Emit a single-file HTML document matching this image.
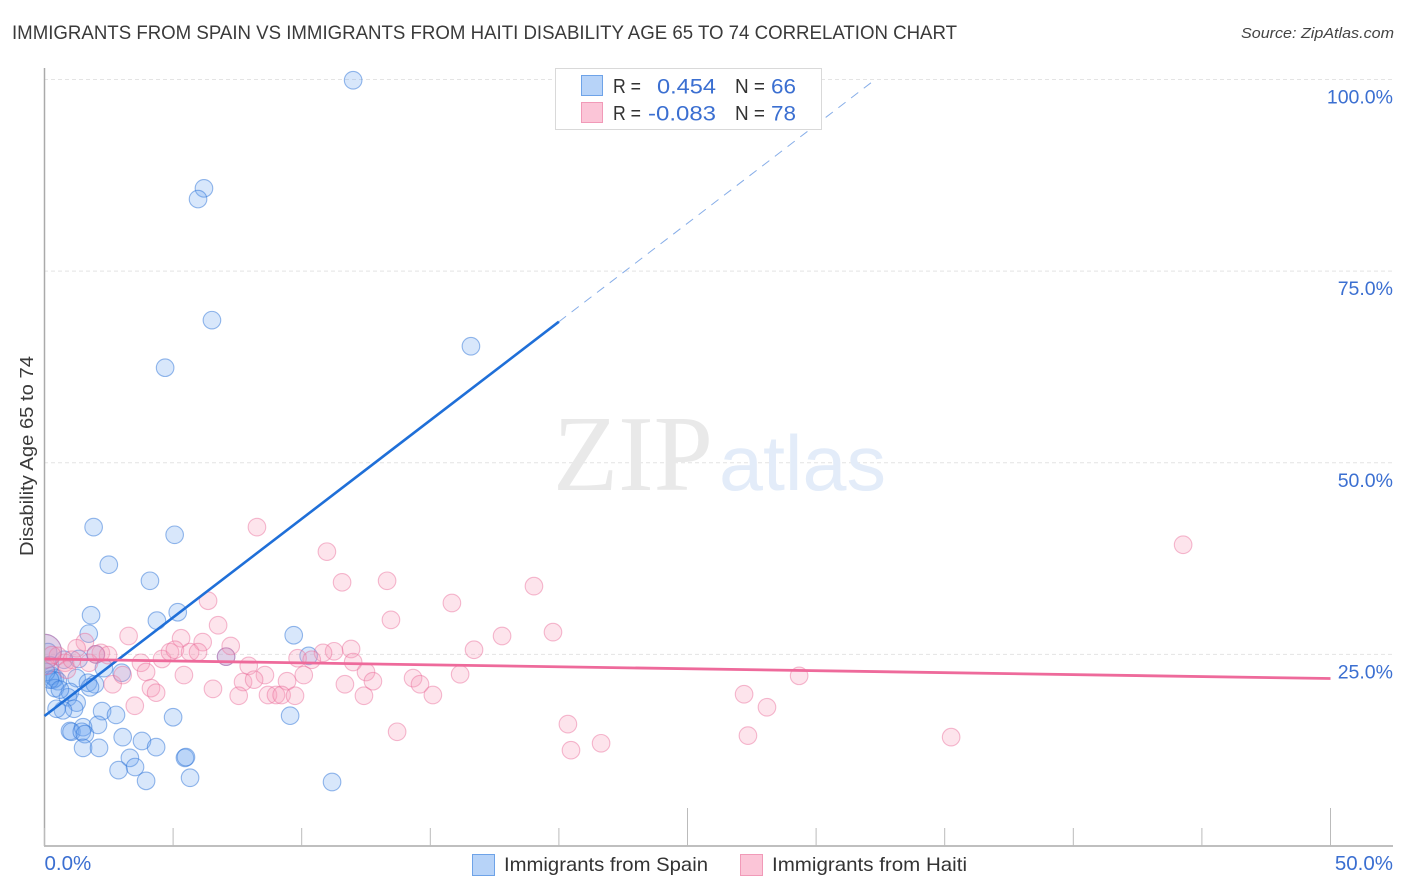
<!DOCTYPE html>
<html lang="en">
<head>
<meta charset="utf-8">
<title>Immigrants from Spain vs Immigrants from Haiti Disability Age 65 to 74 Correlation Chart</title>
<style>
html,body{margin:0;padding:0;background:#fff;}
body{width:1406px;height:892px;overflow:hidden;}
svg{display:block;font-family:"Liberation Sans",sans-serif;}
</style>
</head>
<body>
<svg id="chart" width="1406" height="892" viewBox="0 0 1406 892" xmlns="http://www.w3.org/2000/svg">
  <rect x="0" y="0" width="1406" height="892" fill="#ffffff"/>
  <text x="12" y="39" font-size="19" fill="#3a3a3a" textLength="945" lengthAdjust="spacingAndGlyphs">IMMIGRANTS FROM SPAIN VS IMMIGRANTS FROM HAITI DISABILITY AGE 65 TO 74 CORRELATION CHART</text>
  <text x="1394" y="38" font-size="15" font-style="italic" fill="#444444" text-anchor="end" textLength="153" lengthAdjust="spacingAndGlyphs">Source: ZipAtlas.com</text>
  <g id="grid"></g>
  <g>
    <text x="553" y="490" font-family="'Liberation Serif',serif" font-size="108" fill="#e9e9e9" textLength="160" lengthAdjust="spacingAndGlyphs">ZIP</text>
    <text x="719" y="490" font-size="78" fill="#e3ecf9" textLength="167" lengthAdjust="spacingAndGlyphs">atlas</text>
  </g>
  <g id="points"></g>
  <rect x="10" y="600" width="34.5" height="110" fill="#ffffff"/>
  <g id="axes"></g>
  <g id="trends"></g>
  <g id="labels"></g>
  <text transform="translate(33,456) rotate(-90)" font-size="18.5" fill="#3a3a3a" text-anchor="middle" textLength="200" lengthAdjust="spacingAndGlyphs">Disability Age 65 to 74</text>

  <g>
    <rect x="555.5" y="68.5" width="266" height="61" fill="#ffffff" stroke="#d9d9d9" stroke-width="1"/>
    <rect x="581.5" y="75.5" width="21" height="20" fill="#b7d3f8" stroke="#6ea3e8" stroke-width="1"/>
    <rect x="581.5" y="102.5" width="21" height="20" fill="#fbc5d7" stroke="#f19ab8" stroke-width="1"/>
    <g font-size="20" fill="#333333">
      <text x="613" y="93" textLength="28" lengthAdjust="spacingAndGlyphs">R =</text>
      <text x="735" y="93" textLength="30" lengthAdjust="spacingAndGlyphs">N =</text>
      <text x="613" y="120" textLength="28" lengthAdjust="spacingAndGlyphs">R =</text>
      <text x="735" y="120" textLength="30" lengthAdjust="spacingAndGlyphs">N =</text>
    </g>
    <g font-size="21" fill="#3b6fd1">
      <text x="657" y="93.5" textLength="59" lengthAdjust="spacingAndGlyphs">0.454</text>
      <text x="771" y="93.5" textLength="25" lengthAdjust="spacingAndGlyphs">66</text>
      <text x="648" y="120.5" textLength="68" lengthAdjust="spacingAndGlyphs">-0.083</text>
      <text x="771" y="120.5" textLength="25" lengthAdjust="spacingAndGlyphs">78</text>
    </g>
  </g>

  <g>
    <g>
      <rect x="472.5" y="854.5" width="22" height="21" fill="#b7d3f8" stroke="#6ea3e8" stroke-width="1"/>
      <text x="504" y="871" font-size="19.5" fill="#333333" textLength="204" lengthAdjust="spacingAndGlyphs">Immigrants from Spain</text>
    </g>
    <g>
      <rect x="740.5" y="854.5" width="22" height="21" fill="#fbc5d7" stroke="#f19ab8" stroke-width="1"/>
      <text x="772" y="871" font-size="19.5" fill="#333333" textLength="195" lengthAdjust="spacingAndGlyphs">Immigrants from Haiti</text>
    </g>
  </g>
</svg>
<script>
const xTickValues = [0,5,10,15,20,25,30,35,40,45,50];
const xMajorTicks = [25,50];
const xTickLabels = ["0.0%","50.0%"];
const xTickLabelValues = [0,50];
const yGridValues = [25,50,75,100];
const yTickLabels = ["25.0%","50.0%","75.0%","100.0%"];

const spainX = [12.0,6.2,5.97,6.51,4.69,16.58,1.91,5.06,2.5,4.1,1.81,5.18,4.37,1.72,9.69,7.06,10.27,5.0,9.55,2.24,2.78,2.08,0.99,1.05,1.5,1.45,1.57,1.5,2.12,3.04,3.79,4.34,3.32,3.52,2.88,3.95,5.46,5.5,5.66,11.18,1.33,1.99,2.31,3.0,1.25,1.69,1.96,1.77,0.29,0.33,0.41,0.52,0.41,0.99,0.91,1.25,1.15,0.72,0.47,0.21,0.14,0.06,0.21,0.6,0.76];
const spainY = [99.9,85.8,84.4,68.6,62.4,65.2,41.6,40.6,36.7,34.6,30.1,30.5,29.4,27.7,27.5,24.7,24.8,16.8,17.0,17.6,17.1,15.8,15.0,14.9,15.5,14.9,14.6,12.8,12.8,14.2,13.7,12.9,11.5,10.3,9.9,8.5,11.5,11.6,8.9,8.35,24.4,25.0,23.2,22.6,21.9,21.3,21.1,20.7,22.2,21.7,21.9,21.5,20.6,20.1,19.4,18.7,17.9,17.7,17.9,23.6,25.3,22.7,21.7,20.4,24.3];
const haitiX = [8.26,10.98,11.57,13.32,44.27,19.03,15.84,6.36,13.47,6.75,3.27,17.79,19.77,5.31,6.15,7.24,11.92,16.7,11.26,10.83,9.84,10.39,12.0,7.94,12.5,8.57,7.72,8.15,7.55,9.43,10.08,8.69,9.0,9.22,9.74,11.68,12.42,12.77,14.33,14.6,15.1,16.16,13.71,27.2,28.09,29.34,20.35,20.47,21.64,27.35,35.25,4.57,4.88,5.07,5.66,5.97,3.75,3.95,5.42,4.14,4.34,3.51,6.55,7.06,1.57,1.25,2.19,2.47,1.73,2.65,3.04,0.52,0.06,0.8,0.29,0.87,2.0,1.07];
const haitiY = [41.6,38.4,34.4,34.6,39.3,33.9,31.7,32.0,29.5,28.8,27.4,27.4,27.9,27.1,26.6,26.1,25.7,25.6,25.4,25.2,24.5,24.3,24.0,23.5,22.7,22.3,21.4,21.7,19.6,21.5,22.3,19.7,19.7,19.7,19.6,21.1,19.6,21.5,21.9,21.1,19.7,22.4,14.9,19.8,18.1,22.2,15.9,12.5,13.4,14.4,14.2,24.4,25.3,25.6,25.3,25.3,23.9,22.7,22.3,20.6,20.0,18.3,20.5,24.7,26.6,25.8,25.2,24.9,23.9,21.1,22.3,24.8,23.5,23.9,24.9,23.0,25.0,24.3];

const heavySpainX = [0.0];
const heavySpainY = [25.4];
const heavyHaitiX = [0.0];
const heavyHaitiY = [25.4];

const spainTrendX = [0,20];
const spainTrendY = [16.96,68.4];
const spainTrendDashedX = [20,32.3];
const spainTrendDashedY = [68.4,100];
const haitiTrendX = [0,50];
const haitiTrendY = [24.4,21.85];

const NS = "http://www.w3.org/2000/svg";
function xScale(v){ return 44.5 + v * 25.72; }
function yScale(v){ return 846 - v * 7.665; }
function make(tag, attrs, parent){
  const el = document.createElementNS(NS, tag);
  for (const k in attrs) el.setAttribute(k, attrs[k]);
  parent.appendChild(el);
  return el;
}
const gridG = document.getElementById("grid");
const axesG = document.getElementById("axes");
const pointsG = document.getElementById("points");
const trendsG = document.getElementById("trends");
const labelsG = document.getElementById("labels");

yGridValues.forEach(function(v){
  const l = make("line", {x1:44, x2:1393, y1:yScale(v), y2:yScale(v), stroke:"#e4e4e4", "stroke-width":1, "stroke-dasharray":"4 3"}, gridG);
  
  
});

const yAxisLine = make("line", {x1:44.5, x2:44.5, y1:68, y2:846, stroke:"#aaaaaa", "stroke-width":1.5}, axesG);


const xAxisLine = make("line", {x1:44, x2:1393, y1:846, y2:846, stroke:"#aaaaaa", "stroke-width":1.5}, axesG);


xTickValues.forEach(function(v){
  const h = xMajorTicks.indexOf(v) >= 0 ? 38 : 18;
  const t = make("line", {x1:xScale(v), x2:xScale(v), y1:846, y2:846 - h, stroke:"#bbbbbb", "stroke-width":1}, axesG);
  
  
});

function drawPoint(x, y, r, fill, stroke, name){
  const c = make("circle", {cx:xScale(x), cy:yScale(y), r:r, fill:fill, stroke:stroke, "stroke-width":1.1}, pointsG);
  
  
}
const spainFill = "rgba(110,165,240,0.27)";
const spainStroke = "rgba(45,115,215,0.5)";
const haitiFill = "rgba(248,155,185,0.27)";
const haitiStroke = "rgba(232,105,150,0.45)";
heavySpainX.forEach(function(x,i){ drawPoint(x, heavySpainY[i], 17, spainFill, spainStroke, "spain-cluster-point"); });
spainX.forEach(function(x,i){ drawPoint(x, spainY[i], 8.8, spainFill, spainStroke, "spain-point"); });
heavyHaitiX.forEach(function(x,i){ drawPoint(x, heavyHaitiY[i], 17, haitiFill, haitiStroke, "haiti-cluster-point"); });
haitiX.forEach(function(x,i){ drawPoint(x, haitiY[i], 8.8, haitiFill, haitiStroke, "haiti-point"); });

const spainDashed = make("line", {x1:xScale(spainTrendDashedX[0]), y1:yScale(spainTrendDashedY[0]), x2:xScale(spainTrendDashedX[1]), y2:yScale(spainTrendDashedY[1]), stroke:"#86ade8", "stroke-width":1, "stroke-dasharray":"9 7"}, trendsG);


const spainLine = make("line", {x1:xScale(spainTrendX[0]), y1:yScale(spainTrendY[0]), x2:xScale(spainTrendX[1]), y2:yScale(spainTrendY[1]), stroke:"#1f6fd8", "stroke-width":2.6}, trendsG);


const haitiLine = make("line", {x1:xScale(haitiTrendX[0]), y1:yScale(haitiTrendY[0]), x2:xScale(haitiTrendX[1]), y2:yScale(haitiTrendY[1]), stroke:"#ee6a9b", "stroke-width":2.8}, trendsG);



yTickLabels.forEach(function(s,i){
  const t = make("text", {x:1393, y:yScale(yGridValues[i]) + 24, "font-size":19.5, fill:"#3b6fd1", "text-anchor":"end"}, labelsG);
  t.textContent = s;
  
  
});
xTickLabels.forEach(function(s,i){
  const isLast = i === xTickLabels.length - 1;
  const t = make("text", {x: isLast ? 1393 : xScale(xTickLabelValues[i]), y:870, "font-size":20.5, fill:"#3b6fd1", "text-anchor": isLast ? "end" : "start"}, labelsG);
  t.textContent = s;
  
  
});
</script>
</body>
</html>
